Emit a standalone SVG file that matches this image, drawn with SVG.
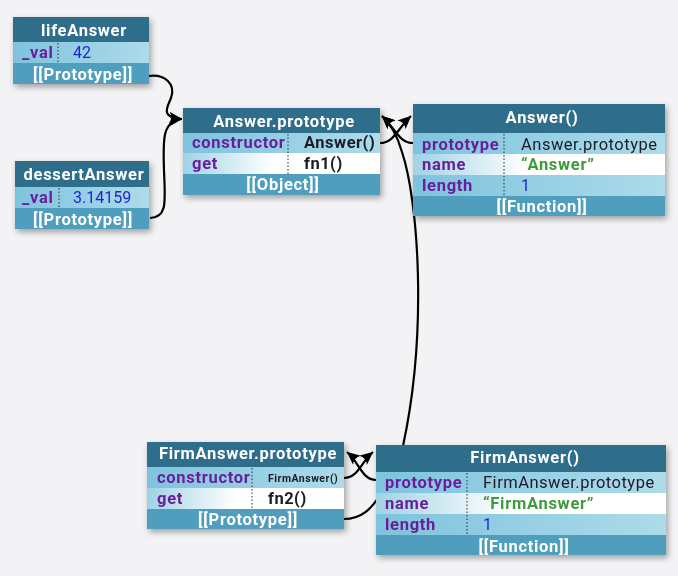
<svg xmlns="http://www.w3.org/2000/svg" width="678" height="576" viewBox="0 0 678 576">
<defs>
<filter id="sh" x="-10%" y="-10%" width="125%" height="135%">
<feDropShadow dx="2" dy="3" stdDeviation="3" flood-color="#000" flood-opacity="0.35"/>
</filter>
<linearGradient id="rowBlue" x1="0" y1="0" x2="1" y2="0">
<stop offset="0" stop-color="#7ec3dd"/>
<stop offset="1" stop-color="#addbea"/>
</linearGradient>
<linearGradient id="rowWhite" x1="0" y1="0" x2="1" y2="0">
<stop offset="0" stop-color="#a0d2e4"/>
<stop offset="0.45" stop-color="#ffffff"/>
<stop offset="1" stop-color="#ffffff"/>
</linearGradient>
<marker id="arr" markerUnits="userSpaceOnUse" markerWidth="15" markerHeight="13" refX="13" refY="6.5" orient="auto">
<path d="M0,0.5 Q7,3.5 13,6.5 Q7,9.5 0,12.5 Q4.5,6.5 0,0.5 Z" fill="#000"/>
</marker>
<style>
.hd{fill:#2f6e8a}
.ft{fill:#4f9ebd}
.rb{fill:url(#rowBlue)}
.rw{fill:url(#rowWhite)}
.tH{font-family:Roboto,"DejaVu Sans",sans-serif;font-weight:bold;font-size:16.5px;letter-spacing:0.7px;fill:#ffffff;text-anchor:middle}
.tL{font-family:Roboto,"DejaVu Sans",sans-serif;font-weight:bold;font-size:16.5px;letter-spacing:0.7px;fill:#6a1f9c}
.tV{font-family:Roboto,"DejaVu Sans",sans-serif;font-size:16.5px;letter-spacing:0.5px;fill:#1b1b28}
.tVb{font-family:Roboto,"DejaVu Sans",sans-serif;font-weight:bold;font-size:16.5px;letter-spacing:0.5px;fill:#1b1b28}
.tN{font-family:Roboto,"DejaVu Sans",sans-serif;font-size:16px;fill:#2323d0}
.tS{font-family:Roboto,"DejaVu Sans",sans-serif;font-weight:bold;font-size:16.5px;letter-spacing:0.7px;fill:#3d9a3d}
.dv{stroke:#2a2a3a;stroke-width:1;stroke-dasharray:1.5 2}
.cn{fill:none;stroke:#000;stroke-width:2.2;marker-end:url(#arr)}
</style>
</defs>
<rect width="678" height="576" fill="#f3f3f5"/>

<g id="connectors">
<path class="cn" d="M149,76 C165,74 176,84 171,98 C167,108 160,117 182,119"/>
<path class="cn" d="M150,218 C168,218 165,200 164,170 C163,140 162,121 182,119"/>
<path class="cn" d="M380,143 C394,143 398,128 411,116"/>
<path class="cn" d="M413,143 C399,143 395,128 382,116"/>
<path class="cn" d="M344,519 C362,519 372,508 380,495 L403,446 C428,330 418,200 402,152 C398,138 393,126 382,116"/>
<path class="cn" d="M344,478 C358,478 361,462 373,452"/>
<path class="cn" d="M376,480 C362,480 359,462 347,452"/>
</g>

<g id="lifeAnswer" filter="url(#sh)">
<rect class="hd" x="13" y="17" width="136" height="25"/>
<rect class="rb" x="13" y="42" width="136" height="21"/>
<rect class="ft" x="13" y="63" width="136" height="21"/>
<line class="dv" x1="58" y1="43" x2="58" y2="63"/>
<text class="tH" x="84" y="36">lifeAnswer</text>
<text class="tL" x="22" y="58">_val</text>
<text class="tN" x="73" y="58">42</text>
<text class="tH" x="83" y="80">[[Prototype]]</text>
</g>

<g id="dessertAnswer" filter="url(#sh)">
<rect class="hd" x="15" y="161" width="134" height="26"/>
<rect class="rb" x="15" y="187" width="134" height="21"/>
<rect class="ft" x="15" y="208" width="134" height="21"/>
<line class="dv" x1="59" y1="188" x2="59" y2="208"/>
<text class="tH" x="84" y="180">dessertAnswer</text>
<text class="tL" x="22" y="203">_val</text>
<text class="tN" x="73" y="203">3.14159</text>
<text class="tH" x="83" y="225">[[Prototype]]</text>
</g>

<g id="AnswerPrototype" filter="url(#sh)">
<rect class="hd" x="183" y="108" width="197" height="25"/>
<rect class="rb" x="183" y="133" width="197" height="20"/>
<rect class="rw" x="183" y="153" width="197" height="21"/>
<rect class="ft" x="183" y="174" width="197" height="21"/>
<line class="dv" x1="288" y1="134" x2="288" y2="174"/>
<text class="tH" x="284" y="127">Answer.prototype</text>
<text class="tL" x="192" y="148">constructor</text>
<text class="tL" x="192" y="169">get</text>
<text class="tVb" x="304" y="148">Answer()</text>
<text class="tVb" x="304" y="169">fn1()</text>
<text class="tH" x="283" y="190">[[Object]]</text>
</g>

<g id="Answer" filter="url(#sh)">
<rect class="hd" x="413" y="104" width="252" height="29"/>
<rect class="rb" x="413" y="133" width="252" height="21"/>
<rect class="rw" x="413" y="154" width="252" height="21"/>
<rect class="rb" x="413" y="175" width="252" height="21"/>
<rect class="ft" x="413" y="196" width="252" height="20"/>
<line class="dv" x1="504" y1="134" x2="504" y2="196"/>
<text class="tH" x="542" y="123">Answer()</text>
<text class="tL" x="422" y="150">prototype</text>
<text class="tL" x="422" y="170">name</text>
<text class="tL" x="422" y="191">length</text>
<text class="tV" x="521" y="150">Answer.prototype</text>
<text class="tS" x="521" y="170">“Answer”</text>
<text class="tN" x="521" y="191">1</text>
<text class="tH" x="542" y="212">[[Function]]</text>
</g>

<g id="FirmAnswerPrototype" filter="url(#sh)">
<rect class="hd" x="147" y="442" width="197" height="25"/>
<rect class="rb" x="147" y="467" width="197" height="21"/>
<rect class="rw" x="147" y="488" width="197" height="21"/>
<rect class="ft" x="147" y="509" width="197" height="20"/>
<line class="dv" x1="252" y1="468" x2="252" y2="509"/>
<text class="tH" x="248" y="459">FirmAnswer.prototype</text>
<text class="tL" x="157" y="483">constructor</text>
<text class="tL" x="157" y="504">get</text>
<text class="tVb" x="268" y="482" style="font-size:10.5px;letter-spacing:0.5px">FirmAnswer()</text>
<text class="tVb" x="268" y="504">fn2()</text>
<text class="tH" x="248" y="525">[[Prototype]]</text>
</g>

<g id="FirmAnswer" filter="url(#sh)">
<rect class="hd" x="376" y="445" width="290" height="27"/>
<rect class="rb" x="376" y="472" width="290" height="21"/>
<rect class="rw" x="376" y="493" width="290" height="21"/>
<rect class="rb" x="376" y="514" width="290" height="21"/>
<rect class="ft" x="376" y="535" width="290" height="20"/>
<line class="dv" x1="467" y1="473" x2="467" y2="535"/>
<text class="tH" x="525" y="463">FirmAnswer()</text>
<text class="tL" x="385" y="488">prototype</text>
<text class="tL" x="385" y="509">name</text>
<text class="tL" x="385" y="530">length</text>
<text class="tV" x="483" y="488">FirmAnswer.prototype</text>
<text class="tS" x="483" y="509">“FirmAnswer”</text>
<text class="tN" x="483" y="530">1</text>
<text class="tH" x="524" y="552">[[Function]]</text>
</g>
</svg>
